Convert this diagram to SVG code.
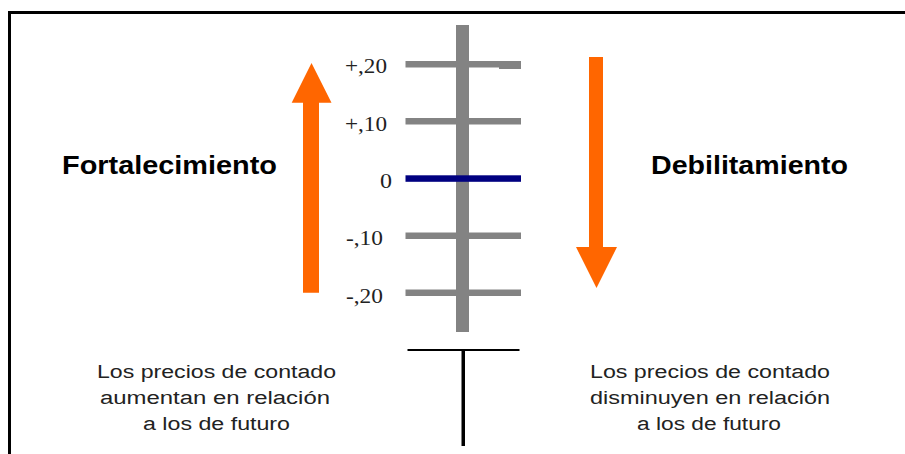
<svg xmlns="http://www.w3.org/2000/svg" width="905" height="454" viewBox="0 0 905 454">
<style>
.num{font-family:"Liberation Serif",serif;font-size:20px;fill:#222}
.big{font-family:"Liberation Sans",Arial,sans-serif;font-size:25px;font-weight:bold;fill:#000}
.cap{font-family:"Liberation Sans",Arial,sans-serif;font-size:18px;fill:#222;text-anchor:middle}
.tick{fill:#838383}
.arrow{fill:#ff6600}
</style>
<rect x="0" y="0" width="905" height="454" fill="#fff"/>
<g id="border">
<rect x="8" y="11" width="897" height="3" fill="#000"/>
<rect x="8" y="11" width="3" height="443" fill="#000"/>
</g>
<g id="scale">
<rect class="tick" x="456" y="25" width="13" height="307"/>
<rect class="tick" x="405.5" y="61" width="115.5" height="6.5"/>
<rect class="tick" x="499" y="61" width="22" height="8"/>
<rect class="tick" x="405.5" y="118" width="115.5" height="6.5"/>
<rect x="405.5" y="175.3" width="115.5" height="6.5" fill="#000080"/>
<rect class="tick" x="405.5" y="232.5" width="115.5" height="6.5"/>
<rect class="tick" x="405.5" y="289.5" width="115.5" height="6.5"/>
</g>
<g id="labels">
<text class="num" x="345" y="73" textLength="42" lengthAdjust="spacingAndGlyphs">+,20</text>
<text class="num" x="345" y="131" textLength="42" lengthAdjust="spacingAndGlyphs">+,10</text>
<text class="num" x="380" y="188" textLength="12" lengthAdjust="spacingAndGlyphs">0</text>
<text class="num" x="346" y="245" textLength="37" lengthAdjust="spacingAndGlyphs">-,10</text>
<text class="num" x="346" y="302.5" textLength="37" lengthAdjust="spacingAndGlyphs">-,20</text>
</g>
<g id="up-arrow">
<polygon class="arrow" points="311.5,63 331.5,102.7 319,102.7 319,292.7 303,292.7 303,102.7 291.7,102.7"/>
</g>
<g id="down-arrow">
<polygon class="arrow" points="589,57 603,57 603,247 617,247 596.5,288 576,247 589,247"/>
</g>
<g id="fortalecimiento">
<text class="big" x="62" y="174" textLength="215" lengthAdjust="spacingAndGlyphs">Fortalecimiento</text>
</g>
<g id="debilitamiento">
<text class="big" x="651" y="174" textLength="197" lengthAdjust="spacingAndGlyphs">Debilitamiento</text>
</g>
<g id="t-shape">
<rect x="407.5" y="349" width="112" height="2" fill="#000"/>
<rect x="461.5" y="350" width="3.5" height="96" fill="#000"/>
</g>
<g id="left-caption">
<text class="cap" x="216.5" y="378" textLength="239" lengthAdjust="spacingAndGlyphs">Los precios de contado</text>
<text class="cap" x="215" y="404" textLength="230" lengthAdjust="spacingAndGlyphs">aumentan en relación</text>
<text class="cap" x="216.5" y="430" textLength="147" lengthAdjust="spacingAndGlyphs">a los de futuro</text>
</g>
<g id="right-caption">
<text class="cap" x="710" y="378" textLength="240" lengthAdjust="spacingAndGlyphs">Los precios de contado</text>
<text class="cap" x="710" y="404" textLength="240" lengthAdjust="spacingAndGlyphs">disminuyen en relación</text>
<text class="cap" x="709" y="430" textLength="144" lengthAdjust="spacingAndGlyphs">a los de futuro</text>
</g>
</svg>
